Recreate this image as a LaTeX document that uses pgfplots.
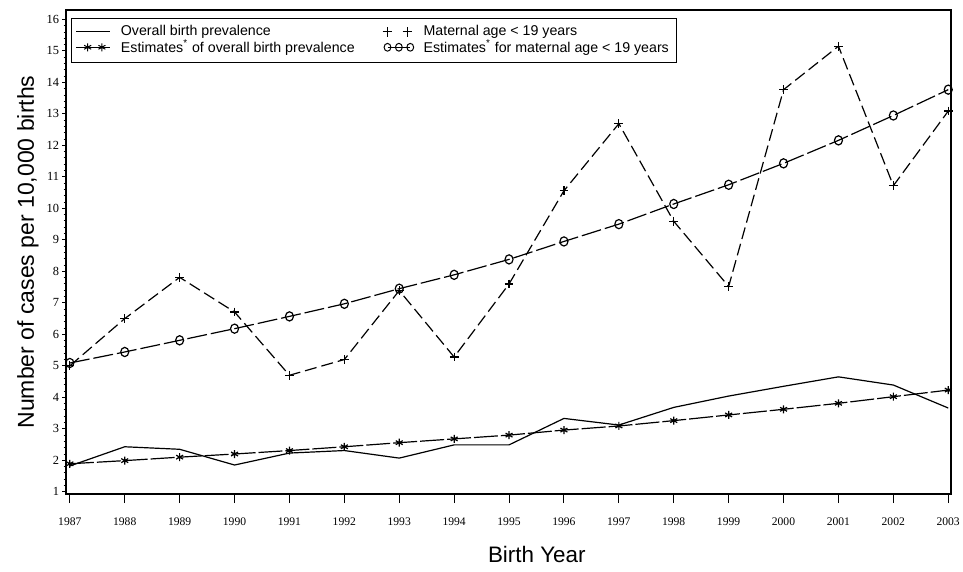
\documentclass[border=0pt]{standalone}
\usepackage{fontspec}
\setmainfont{Liberation Sans}
\newfontfamily\tickfont{Liberation Serif}
\usepackage{pgfplots}
\pgfplotsset{compat=1.18}
\begin{document}
\begin{tikzpicture}
\begin{axis}[
  width=442.5pt, height=242pt, scale only axis,
  xmin=1986.93, xmax=2003.05, ymin=0.93, ymax=16.3,
  xtick={1987,...,2003}, ytick={1,...,16},
  minor y tick num=4,
  tick align=outside, xtick pos=bottom, ytick pos=left,
  x tick style={/pgfplots/major tick length=4.5pt},
  y tick style={/pgfplots/major tick length=2pt, /pgfplots/minor tick length=1.2pt},
  /pgf/number format/assume math mode=true,
  xticklabel style={/pgf/number format/1000 sep={}, font=\tickfont\fontsize{5.8}{6}\selectfont, yshift=-4pt},
  yticklabel style={font=\tickfont\fontsize{6.2}{6}\selectfont, xshift=4.3pt},
  axis line style={line width=0.7pt},
  every tick/.style={black, line width=0.5pt},
  xlabel={Birth Year}, ylabel={Number of cases per 10,000 births},
  xlabel style={at={(rel axis cs:0.532,-0.126)}, anchor=center, font=\fontsize{11.2}{13}\selectfont},
  ylabel style={at={(rel axis cs:-0.043,0.5)}, anchor=center, font=\fontsize{11.5}{13}\selectfont},
  legend columns=2,
  legend cell align=left,
  legend style={at={(rel axis cs:0.006,0.984)}, anchor=north west, draw=black, line width=0.5pt,
    font=\fontsize{7.1}{7.6}\selectfont, inner xsep=2pt, inner ysep=1.5pt, row sep=-3.6pt,
    /tikz/every odd column/.append style={column sep=3pt},
    /tikz/every even column/.append style={column sep=12pt}},
  legend image post style={line width=0.5pt},
]
\addplot[black, line width=0.6pt] coordinates {
(1987,1.82) (1988,2.43) (1989,2.35) (1990,1.85) (1991,2.23) (1992,2.31) (1993,2.07) (1994,2.49) (1995,2.49)
(1996,3.33) (1997,3.12) (1998,3.68) (1999,4.04) (2000,4.35) (2001,4.65) (2002,4.39) (2003,3.66)};
\addlegendentry{Overall birth prevalence}
\addplot[black, line width=0.6pt, dash pattern=on 6pt off 2.5pt, mark=+, mark size=2.2pt, mark options={solid},
  legend image code/.code={\draw[mark=+, mark size=2.4pt, only marks, solid] plot coordinates {(0.05cm,0cm) (0.4cm,0cm)};}] coordinates {
(1987,5.00) (1988,6.50) (1989,7.81) (1990,6.71) (1991,4.70) (1992,5.20) (1993,7.39) (1994,5.28) (1995,7.60)
(1996,10.56) (1997,12.69) (1998,9.59) (1999,7.52) (2000,13.77) (2001,15.15) (2002,10.72) (2003,13.09)};
\addlegendentry{Maternal age < 19 years}
\addplot[black, line width=0.6pt, dash pattern=on 12pt off 1.5pt, mark=asterisk, mark size=2pt, mark options={solid},
  legend image code/.code={\draw[solid] (0cm,0cm) -- (0.6cm,0cm); \draw[mark=asterisk, mark size=2pt, only marks, solid] plot coordinates {(0.2cm,0cm) (0.45cm,0cm)};}] coordinates {
(1987,1.89) (1988,1.99) (1989,2.10) (1990,2.20) (1991,2.31) (1992,2.43) (1993,2.56) (1994,2.68) (1995,2.80)
(1996,2.96) (1997,3.09) (1998,3.26) (1999,3.44) (2000,3.62) (2001,3.81) (2002,4.02) (2003,4.23)};
\addlegendentry{Estimates\textsuperscript{*} of overall birth prevalence}
\addplot[black, line width=0.6pt, dash pattern=on 10pt off 2pt, mark=o, mark size=2pt, mark options={solid, yscale=1.15},
  legend image code/.code={\draw[solid] (0.05cm,0cm) -- (0.45cm,0cm); \draw[mark=o, mark size=1.7pt, only marks, solid] plot coordinates {(0.05cm,0cm) (0.25cm,0cm) (0.45cm,0cm)};}] coordinates {
(1987,5.09) (1988,5.44) (1989,5.81) (1990,6.18) (1991,6.57) (1992,6.97) (1993,7.45) (1994,7.89) (1995,8.38)
(1996,8.95) (1997,9.50) (1998,10.14) (1999,10.75) (2000,11.43) (2001,12.16) (2002,12.95) (2003,13.77)};
\addlegendentry{Estimates\textsuperscript{*} for maternal age < 19 years}
\end{axis}
\pgfresetboundingbox
\path (-33pt,-39pt) rectangle (448.5pt,247pt);
\end{tikzpicture}
\end{document}
